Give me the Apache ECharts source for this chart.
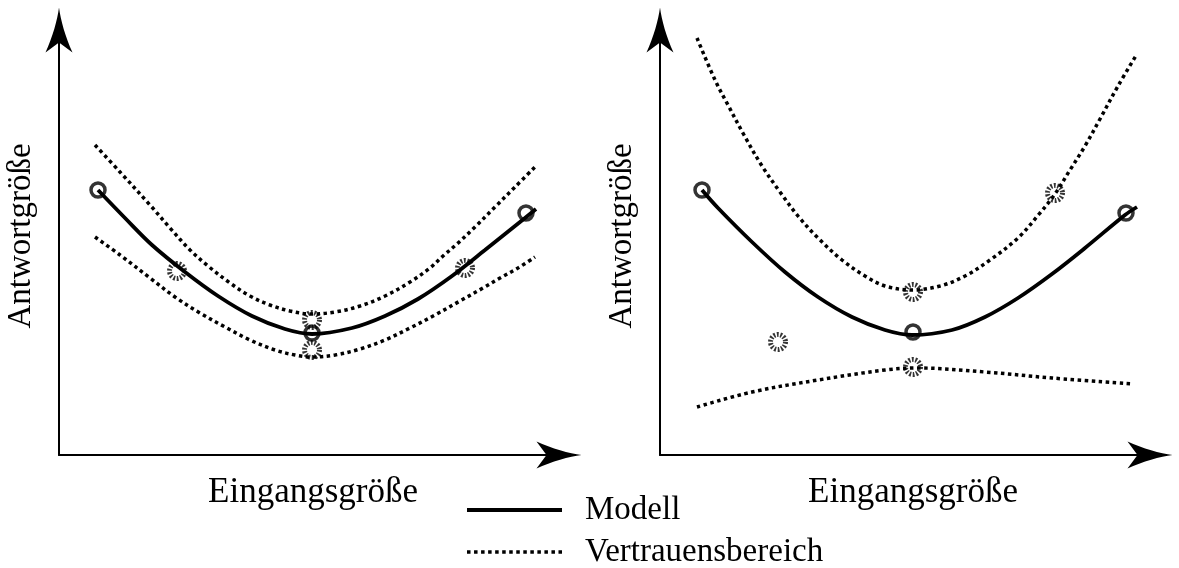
<!DOCTYPE html>
<html><head><meta charset="utf-8">
<script src="https://cdn.jsdelivr.net/npm/echarts@6/dist/echarts.min.js"></script>
<style>html,body{margin:0;padding:0;background:#fff}#c{width:1179px;height:568px}</style>
</head><body><div id="c"></div>
<script>
// ---- texts ----
const xName = 'Eingangsgröße';
const yName = 'Antwortgröße';
const modelName = 'Modell';
const bandName = 'Vertrauensbereich';

// ---- left panel (x: 0..500, y: 0..425) ----
const leftModel = [[39,265],[66,237],[93,210],[126,183],[159,159],[193,139],[226,126],[253,121],[293,127],[326,139],[359,156],[393,179],[426,205],[466,237],[477,246]];
const leftUpper = [[36,310],[61,283],[91,250],[111,227],[131,205],[149,189],[171,172],[191,159],[211,150],[231,144],[252,141],[276,143],[301,149],[326,159],[351,173],[371,187],[384,199],[398,211],[416,228],[436,248],[456,268],[476,288]];
const leftLower = [[36,218],[61,200],[91,177],[116,158],[141,142],[166,128],[191,115],[216,105],[236,100],[253,98],[276,100],[301,106],[326,115],[351,127],[376,140],[401,154],[424,167],[441,177],[459,187],[476,198]];
const leftModelPoints = [[39,265],[253,122],[467,242]];
const leftBandPoints = [[118,184],[406,187],[253,135],[253,105]];

// ---- right panel (x: 0..490, y: 0..425) ----
const rightModel = [[42,265],[58,247],[92,213],[125,183],[158,158],[192,138],[225,125],[252,120],[292,125],[325,138],[358,157],[392,181],[425,207],[465,240],[477,248]];
const rightUpper = [[37,417],[55,375],[68,350],[84,320],[102,289],[120,263],[138,239],[158,217],[182,195],[205,179],[225,169],[252,165],[280,169],[305,179],[330,195],[358,217],[380,242],[395,261],[410,285],[425,309],[440,336],[458,369],[477,401]];
const rightLower = [[37,48],[92,63],[158,75],[225,85],[258,87],[325,83],[392,77],[473,71]];
const rightModelPoints = [[42,265],[253,123],[466,242]];
const rightBandPoints = [[118,113],[253,163],[253,88],[395,262]];

const FONT = "'Liberation Serif','DejaVu Serif',serif";
const ARROW = 'path://M13.5,0 C15,12 20,30 27,45 L13.5,35 L0,45 C7,30 12,12 13.5,0 Z';
const SOLID_ICON = 'path://M0,0H95V4H0Z';
let dots = '';
for (let i = 0; i < 14; i++) dots += 'M' + (i * 7) + ',0h3.5v3.5h-3.5Z';
const DOT_ICON = 'path://' + dots;

function axis(max, isX, right) {
  return {
    type: 'value', min: 0, max: max, gridIndex: right ? 1 : 0,
    name: isX ? xName : yName, nameLocation: 'middle',
    nameGap: isX ? 20 : 21,
    nameTextStyle: {fontFamily: FONT, fontSize: isX ? 35 : 33, color: '#000',
      padding: isX ? (right ? [0, 0, 0, 16] : [0, 0, 0, 8]) : [0, 0, 0, 13]},
    axisLine: {show: true, onZero: false, lineStyle: {color: '#000', width: 2},
      symbol: ['none', ARROW], symbolSize: [27, 45]},
    axisTick: {show: false}, axisLabel: {show: false}, splitLine: {show: false}
  };
}

const solid = {color: '#000', width: 3.8, type: 'solid'};
const dotted = {color: '#000', width: 3.5, type: [3.5, 3.5], cap: 'butt'};

function line(name, data, idx, style) {
  return {type: 'line', name: name, data: data, xAxisIndex: idx, yAxisIndex: idx,
    smooth: 0.35, symbol: 'none', lineStyle: style, itemStyle: {color: '#000'}, z: 2, silent: true};
}
function marks(data, idx, dashed) {
  return {type: 'scatter', data: data, xAxisIndex: idx, yAxisIndex: idx, symbol: 'circle',
    symbolSize: dashed ? 15 : 14, z: 5, silent: true,
    itemStyle: dashed
      ? {color: 'rgba(0,0,0,0)', borderColor: '#000', borderWidth: 5, borderType: [1.8, 1.6]}
      : {color: 'rgba(0,0,0,0)', borderColor: '#000', borderWidth: 3.5}};
}
function legend(name, icon, top) {
  return {
    orient: 'vertical', left: 467, top: top, padding: 0,
    itemWidth: 95, itemHeight: 20, selectedMode: false,
    data: [{name: name, icon: icon}],
    itemStyle: {color: '#000', borderWidth: 0},
    textStyle: {fontFamily: FONT, fontSize: 33, lineHeight: 34, color: '#000', padding: [0, 0, 0, 18]}
  };
}

const chart = echarts.init(document.getElementById('c'), null, {renderer: 'canvas'});
chart.setOption({
  backgroundColor: '#fff',
  animation: false,
  grid: [
    {left: 59, top: 30, width: 500, height: 425},
    {left: 660, top: 30, width: 490, height: 425}
  ],
  xAxis: [axis(500, true, false), axis(490, true, true)],
  yAxis: [axis(425, false, false), axis(425, false, true)],
  legend: [legend(modelName, SOLID_ICON, 493), legend(bandName, DOT_ICON, 535)],
  series: [
    line(modelName, leftModel, 0, solid),
    line(bandName, leftUpper, 0, dotted),
    line(bandName, leftLower, 0, dotted),
    marks(leftModelPoints, 0, false),
    marks(leftBandPoints, 0, true),
    line(modelName, rightModel, 1, solid),
    line(bandName, rightUpper, 1, dotted),
    line(bandName, rightLower, 1, dotted),
    marks(rightModelPoints, 1, false),
    marks(rightBandPoints, 1, true)
  ]
});
</script></body></html>
